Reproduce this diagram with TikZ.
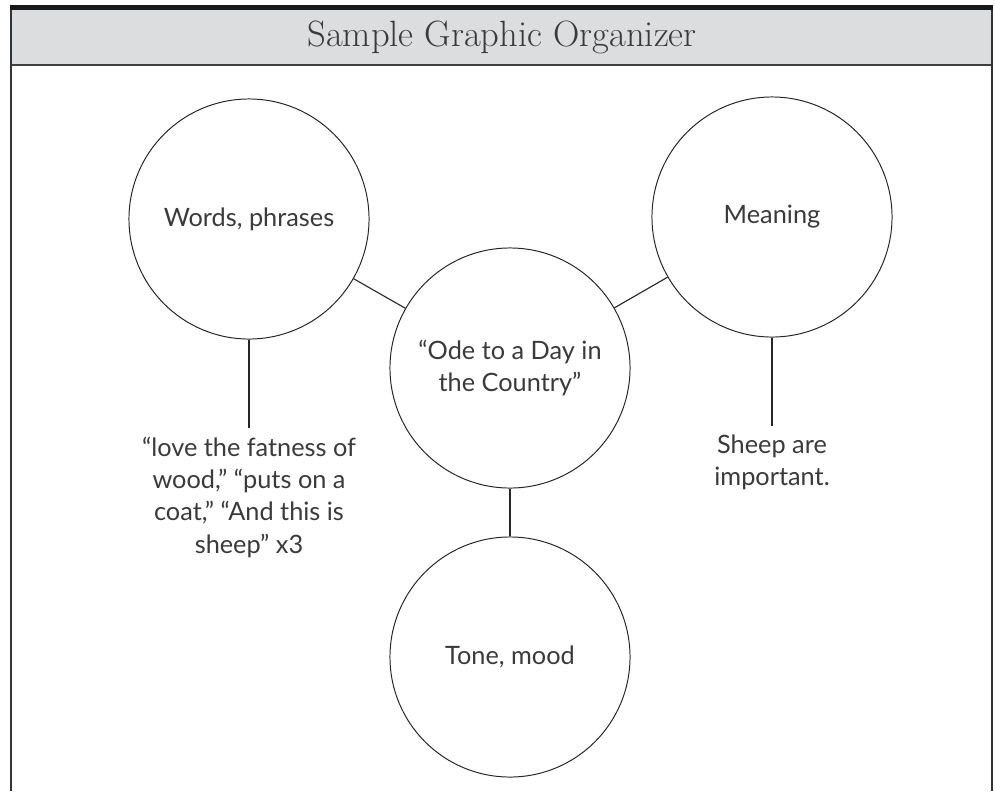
\documentclass[tikz,border=0pt]{standalone}
\usepackage{fontspec}
\setsansfont{Lato}
\usepackage{tikz}
\usetikzlibrary{positioning}

\definecolor{headgray}{HTML}{DCDDDF}
\definecolor{textgray}{HTML}{3A3A3A}

\begin{document}
\begin{tikzpicture}[x=0.025cm, y=-0.025cm,
    bubble/.style={circle, draw=black!85, line width=0.7pt, minimum size=6cm, inner sep=0pt,
                   font=\sffamily\fontsize{18}{23}\selectfont, text=textgray, align=center},
    note/.style={font=\sffamily\fontsize{18}{23}\selectfont, text=textgray, align=center, inner sep=6pt},
    link/.style={draw=black!85, line width=0.8pt}]

    \useasboundingbox (0,0) rectangle (995,791);

    % Frame and header band
    \fill[headgray] (11,10) rectangle (992,65);
    \draw[line width=1pt, black!75] (11,65) -- (992,65); % header rule
    \draw[line width=0.8pt, black!80] (11,10) -- (11,791); % left side
    \draw[line width=0.8pt, black!80] (992,10) -- (992,791); % right side
    \fill[black!90] (10,5) rectangle (993,10); % top bar
    \node[text=textgray] (title) at (502,37) {\fontsize{26}{30}\selectfont Sample Graphic Organizer};

    % Circles
    \node[bubble] (words) at (249,219) {Words, phrases};
    \node[bubble] (meaning) at (772,217) {Meaning};
    \node[bubble] (ode) at (510,368) {“Ode to a Day in\\the Country”};
    \node[bubble] (tone) at (510,657) {Tone, mood};

    % Notes under the side circles
    \node[note, anchor=north] (wordsnote) at (249,428) {“love the fatness of\\wood,” “puts on a\\coat,” “And this is\\sheep” x3};
    \node[note, anchor=north] (meaningnote) at (772,426) {Sheep are\\important.};

    % Connectors
    \draw[link] (words) -- (ode);
    \draw[link] (ode) -- (meaning);
    \draw[link] (ode) -- (tone);
    \draw[link] (words.south) -- (wordsnote.north);
    \draw[link] (meaning.south) -- (meaningnote.north);

\end{tikzpicture}
\end{document}
